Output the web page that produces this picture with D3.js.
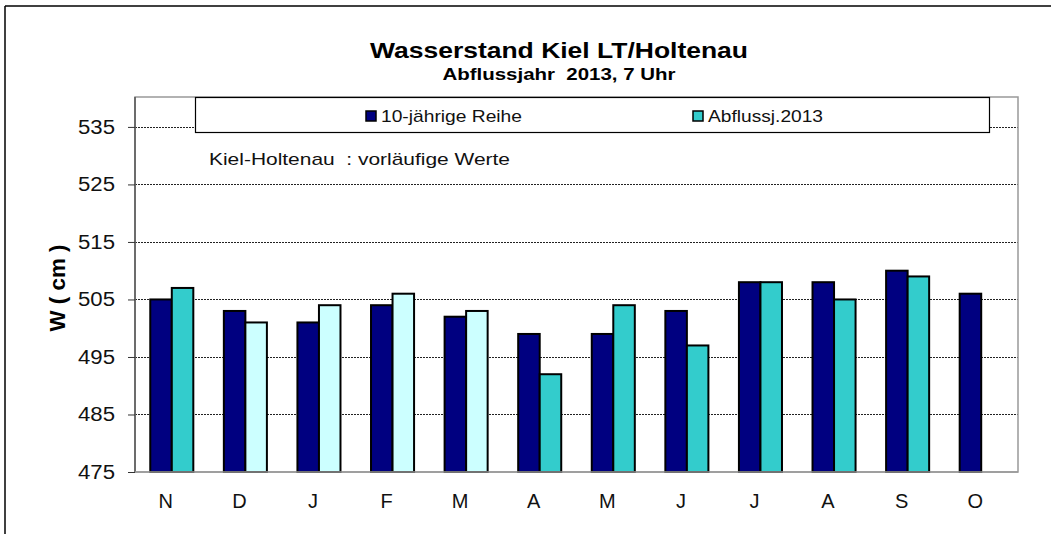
<!DOCTYPE html>
<html><head><meta charset="utf-8">
<script src="https://cdn.jsdelivr.net/npm/d3@7"></script>
<style>body{margin:0;background:#fff}svg{display:block;font-family:"Liberation Sans",Arial,sans-serif}</style>
</head><body><svg id="c" width="1051" height="534"></svg>
<script>
const months = ["N","D","J","F","M","A","M","J","J","A","S","O"];
const reihe = [505,503,501,504,502,499,499,503,508,508,510,506];
const abfluss = [507,501,504,506,503,492,504,497,508,505,509,null];
const abflussColors = ["#33CCCC","#CCFFFF","#CCFFFF","#CCFFFF","#CCFFFF","#33CCCC","#33CCCC","#33CCCC","#33CCCC","#33CCCC","#33CCCC","#33CCCC"];
const yTicks = [475,485,495,505,515,525,535];
const seriesNames = ["10-jährige Reihe","Abflussj.2013"];

const svg = d3.select("#c");
const L=135, R=1018, T=97, B=472;
const x = d3.scaleBand().domain(d3.range(months.length)).range([L,R]).paddingInner(0.415).paddingOuter(0.2075);
const y = d3.scaleLinear().domain([475,540.2]).range([B,T]);

// outer border
svg.append("line").attr("x1",5).attr("x2",1051).attr("y1",6).attr("y2",6).attr("stroke","#000").attr("stroke-width",1.5);
svg.append("line").attr("x1",5).attr("x2",5).attr("y1",6).attr("y2",534).attr("stroke","#000").attr("stroke-width",1.5);

// gridlines
svg.append("g").selectAll("line").data(yTicks.slice(1)).join("line")
  .attr("x1",L).attr("x2",R).attr("y1",d=>Math.round(y(d))+0.5).attr("y2",d=>Math.round(y(d))+0.5)
  .attr("stroke","#222").attr("stroke-width",1).attr("stroke-dasharray","2,1");

// plot border
svg.append("rect").attr("x",L).attr("y",T).attr("width",R-L).attr("height",B-T).attr("fill","none").attr("stroke","#999").attr("stroke-width",1.5);

// y axis
const ya = svg.append("g").attr("transform",`translate(${L},0)`).call(d3.axisLeft(y).tickValues(yTicks).tickSize(7).tickPadding(13).tickFormat(d3.format("d")));
ya.select(".domain").attr("stroke","#555").attr("stroke-width",1.5).attr("d",`M0,${B}V${T}`);
ya.selectAll(".tick line").attr("stroke","#333");
ya.selectAll("text").attr("font-size",20).attr("fill","#111").attr("font-family","Liberation Sans, Arial, sans-serif")
  .attr("textLength",37).attr("lengthAdjust","spacingAndGlyphs");

// bars
const bw = x.bandwidth()/2;
const g = svg.append("g");
g.selectAll(".r").data(reihe).join("rect")
  .attr("x",(d,i)=>x(i)).attr("y",d=>y(d)).attr("width",bw).attr("height",d=>B-y(d))
  .attr("fill","#000080").attr("stroke","#000").attr("stroke-width",2);
g.selectAll(".a").data(abfluss.map((v,i)=>({v,i})).filter(d=>d.v!=null)).join("rect")
  .attr("x",d=>x(d.i)+bw).attr("y",d=>y(d.v)).attr("width",bw).attr("height",d=>B-y(d.v))
  .attr("fill",d=>abflussColors[d.i]).attr("stroke","#000").attr("stroke-width",2);

// bottom axis line
svg.append("line").attr("x1",L).attr("x2",R).attr("y1",B).attr("y2",B).attr("stroke","#999").attr("stroke-width",1.5);

// x labels
svg.append("g").selectAll("text").data(months).join("text")
  .attr("x",(d,i)=>x(i)+x.bandwidth()/2-6).attr("y",508).attr("text-anchor","middle")
  .attr("font-size",20).attr("fill","#111").text(d=>d);

// titles
svg.append("text").attr("x",559).attr("y",58).attr("text-anchor","middle").attr("font-size",22).attr("font-weight","bold")
  .attr("textLength",378).attr("lengthAdjust","spacingAndGlyphs").text("Wasserstand Kiel LT/Holtenau");
svg.append("text").attr("x",559).attr("y",80).attr("text-anchor","middle").attr("font-size",17).attr("font-weight","bold").attr("xml:space","preserve")
  .attr("textLength",233).attr("lengthAdjust","spacingAndGlyphs").text("Abflussjahr  2013, 7 Uhr");

// y title
svg.append("text").attr("transform","translate(65,288) rotate(-90)").attr("text-anchor","middle").attr("font-size",22).attr("font-weight","bold").attr("xml:space","preserve")
  .attr("textLength",87).attr("lengthAdjust","spacingAndGlyphs").text("W ( cm )");

// legend
svg.append("rect").attr("x",195.5).attr("y",97.5).attr("width",794).attr("height",35).attr("fill","#fff").attr("stroke","#000").attr("stroke-width",1.2);
const lx = [366,693];
const lw = [141,115];
const lc = ["#000080","#33CCCC"];
seriesNames.forEach((n,i)=>{
  svg.append("rect").attr("x",lx[i]).attr("y",111).attr("width",10).attr("height",10).attr("fill",lc[i]).attr("stroke","#000").attr("stroke-width",1.5);
  svg.append("text").attr("x",lx[i]+15).attr("y",122).attr("font-size",17).attr("fill","#111")
    .attr("textLength",lw[i]).attr("lengthAdjust","spacingAndGlyphs").text(n);
});

// annotation
svg.append("text").attr("x",209).attr("y",165).attr("font-size",17).attr("fill","#111").attr("xml:space","preserve")
  .attr("textLength",301).attr("lengthAdjust","spacingAndGlyphs").text("Kiel-Holtenau  : vorläufige Werte");
</script></body></html>
